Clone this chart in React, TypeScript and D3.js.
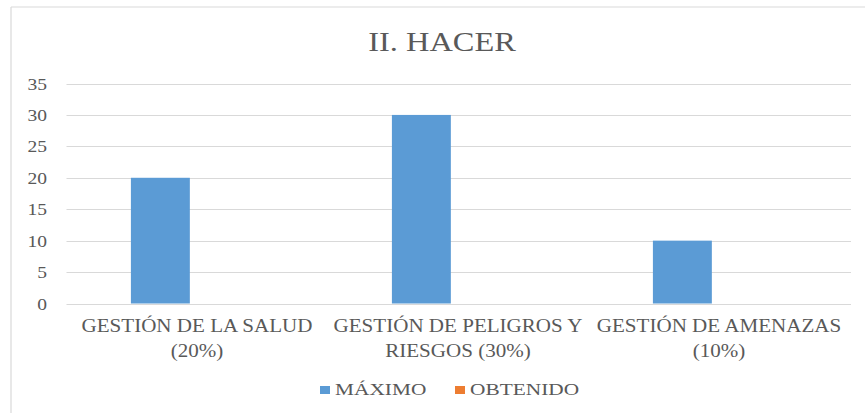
import React from "react";
import * as d3 from "d3";

const title = "II. HACER";
const categories = [
  "GESTIÓN DE LA SALUD (20%)",
  "GESTIÓN DE PELIGROS Y RIESGOS (30%)",
  "GESTIÓN DE AMENAZAS (10%)",
];
const categoryLines = [
  ["GESTIÓN DE LA SALUD", "(20%)"],
  ["GESTIÓN DE PELIGROS Y", "RIESGOS (30%)"],
  ["GESTIÓN DE AMENAZAS", "(10%)"],
];
const seriesNames = ["MÁXIMO", "OBTENIDO"];
const maximo = [20, 30, 10];
const obtenido = [0, 0, 0];
const yTicks = [0, 5, 10, 15, 20, 25, 30, 35];
const colors = ["#5B9BD5", "#ED7D31"];

const W = 865;
const H = 413;
const FONT = "'Liberation Serif', 'Times New Roman', serif";
const TEXT = "#595959";

export default function App() {
  const x = d3.scaleBand<string>().domain(categories).range([66.5, 849.5]);
  const xi = d3
    .scaleBand<string>()
    .domain(seriesNames)
    .range([0, x.bandwidth()])
    .paddingInner(0)
    .paddingOuter(1.214)
    .align(0.45);
  const y = d3.scaleLinear().domain([0, 35]).range([303.5, 83.5]);
  const values = [maximo, obtenido];

  return (
    <svg
      width={W}
      height={H}
      style={{ position: "absolute", left: 0, top: 0, background: "#fff" }}
    >
      <rect x={0} y={0} width={W} height={H} fill="#fff" />
      <line x1={11} x2={11} y1={7} y2={H + 5} stroke="#d9d9d9" strokeWidth={1.2} />
      <line x1={11} x2={W + 5} y1={7} y2={7} stroke="#d9d9d9" strokeWidth={1.2} />

      <text
        transform={`translate(442,51) scale(1.2,1)`}
        textAnchor="middle"
        fontFamily={FONT}
        fontSize={27}
        fill={TEXT}
      >
        {title}
      </text>

      {yTicks.map((t) => (
        <g key={t}>
          <line
            x1={66.5}
            x2={851}
            y1={Math.round(y(t)) + 0.5}
            y2={Math.round(y(t)) + 0.5}
            stroke="#d9d9d9"
            strokeWidth={1}
          />
          <text
            transform={`translate(47,${y(t) + 6}) scale(1.15,1)`}
            textAnchor="end"
            fontFamily={FONT}
            fontSize={17}
            fill={TEXT}
          >
            {t}
          </text>
        </g>
      ))}

      {categories.map((c, ci) =>
        seriesNames.map((s, si) => {
          const v = values[si][ci];
          const h = y(0) - y(v);
          if (h <= 0) return null;
          return (
            <rect
              key={c + s}
              x={(x(c) ?? 0) + (xi(s) ?? 0)}
              y={y(v)}
              width={xi.bandwidth()}
              height={h}
              fill={colors[si]}
            />
          );
        })
      )}

      {categories.map((c, ci) => (
        <g key={c}>
          {categoryLines[ci].map((ln, li) => (
            <text
              key={li}
              transform={`translate(${(x(c) ?? 0) + x.bandwidth() / 2},${332 + li * 25}) scale(1.17,1)`}
              textAnchor="middle"
              fontFamily={FONT}
              fontSize={18}
              fill={TEXT}
            >
              {ln}
            </text>
          ))}
        </g>
      ))}

      {seriesNames.map((s, si) => {
        const lx = si === 0 ? 320 : 455;
        return (
          <g key={s}>
            <rect x={lx} y={386} width={10} height={8} fill={colors[si]} />
            <text
              transform={`translate(${lx + 15},394.5) scale(1.22,1)`}
              fontFamily={FONT}
              fontSize={17.5}
              fill={TEXT}
            >
              {s}
            </text>
          </g>
        );
      })}
    </svg>
  );
}
